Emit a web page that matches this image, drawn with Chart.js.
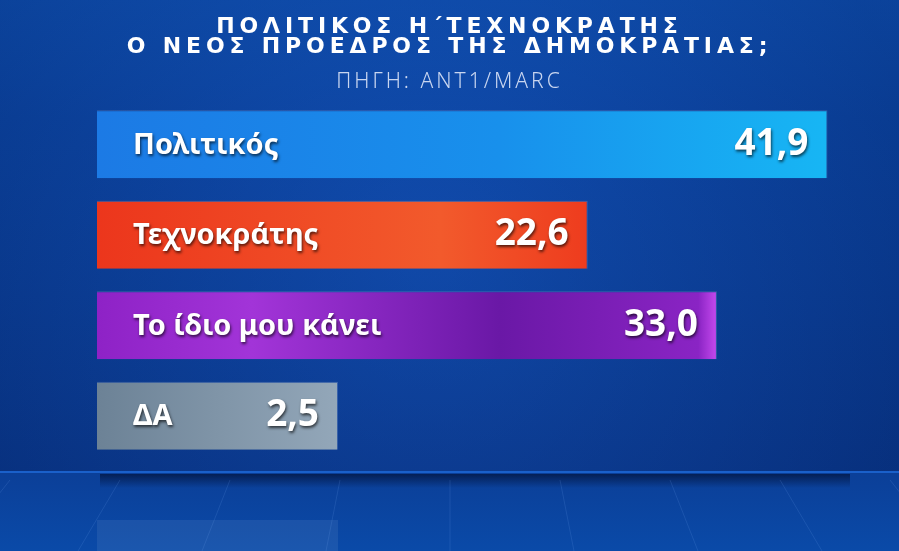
<!DOCTYPE html>
<html>
<head>
<meta charset="utf-8">
<script src="https://cdn.jsdelivr.net/npm/chart.js@4.4.1/dist/chart.umd.min.js"></script>
<style>
  html, body { margin: 0; padding: 0; }
  body { width: 899px; height: 551px; overflow: hidden; position: relative; background: #0a3f98; font-family: "Noto Sans", sans-serif; }
  #chart { position: absolute; left: 0; top: 0; }
  .title { position: absolute; left: 0; width: 899px; text-align: center; color: #fff; font-family: "DejaVu Sans", sans-serif; font-weight: 700; white-space: nowrap; font-size: 22px; line-height: 24px; letter-spacing: 4.85px; }
  #t1 { top: 14px; }
  #t2 { top: 34px; }
  #t3 { top: 68px; font-family: "Noto Sans", sans-serif; font-size: 21px; font-weight: 300; color: #c9d6f0; letter-spacing: 3px; }
</style>
</head>
<body>
<canvas id="chart" width="899" height="551"></canvas>
<div class="title" id="t1">ΠΟΛΙΤΙΚΟΣ Η΄ΤΕΧΝΟΚΡΑΤΗΣ</div>
<div class="title" id="t2">Ο ΝΕΟΣ ΠΡΟΕΔΡΟΣ ΤΗΣ ΔΗΜΟΚΡΑΤΙΑΣ;</div>
<div class="title" id="t3">ΠΗΓΗ: ANT1/MARC</div>
<script>
// Δεδομένα
const categories = ['Πολιτικός', 'Τεχνοκράτης', 'Το ίδιο μου κάνει', 'ΔΑ'];
const values = [41.9, 22.6, 33.0, 2.5];
const valueLabels = ['41,9', '22,6', '33,0', '2,5'];

// χρώματα μπαρών (αριστερά -> δεξιά)
const barStops = [
    [[0, '#1c7ae5'], [0.55, '#1890ec'], [1, '#17b6f4']],
    [[0, '#ec361c'], [0.7, '#f25a2c'], [1, '#ee3c1e']],
    [[0, '#8e22c6'], [0.25, '#a234d8'], [0.65, '#6a18a6'], [0.97, '#8a24c4'], [1, '#c64aee']],
    [[0, '#6c8296'], [1, '#93a7b9']]
];

const BASE = -16.9;

function barColor(context) {
    const chart = context.chart;
    const x = chart.scales.x;
    if (!x || !chart.chartArea) return barStops[context.dataIndex][0][1];
    const x0 = x.getPixelForValue(BASE);
    const x1 = x.getPixelForValue(values[context.dataIndex]);
    const g = chart.ctx.createLinearGradient(x0, 0, x1, 0);
    barStops[context.dataIndex].forEach(s => g.addColorStop(s[0], s[1]));
    return g;
}

// φόντο
const backgroundPlugin = {
    id: 'bg',
    beforeDraw(chart) {
        const ctx = chart.ctx;
        const w = chart.width, h = chart.height;
        ctx.save();
        let g = ctx.createLinearGradient(0, 0, 0, 472);
        g.addColorStop(0, '#0f52b4');
        g.addColorStop(0.25, '#0c48a6');
        g.addColorStop(1, '#0a3a8e');
        ctx.fillStyle = g;
        ctx.fillRect(0, 0, w, 472);
        let rg = ctx.createRadialGradient(430, 260, 20, 430, 260, 500);
        rg.addColorStop(0, 'rgba(30,90,200,0.25)');
        rg.addColorStop(1, 'rgba(0,20,80,0.25)');
        ctx.fillStyle = rg;
        ctx.fillRect(0, 0, w, 472);
        // πάτωμα
        g = ctx.createLinearGradient(0, 472, 0, h);
        g.addColorStop(0, '#0b3f98');
        g.addColorStop(1, '#0a4aa8');
        ctx.fillStyle = g;
        ctx.fillRect(0, 472, w, h - 472);
        ctx.fillStyle = '#1a60ca';
        ctx.fillRect(0, 471, w, 2);
        g = ctx.createLinearGradient(0, 474, 0, 488);
        g.addColorStop(0, 'rgba(0,10,40,0.6)');
        g.addColorStop(1, 'rgba(0,10,40,0)');
        ctx.fillStyle = g;
        ctx.fillRect(100, 474, 750, 14);
        ctx.strokeStyle = 'rgba(120,170,240,0.16)';
        ctx.lineWidth = 1;
        for (let i = -5; i <= 5; i++) {
            ctx.beginPath();
            ctx.moveTo(450 + i * 110, 480);
            ctx.lineTo(450 + i * 124, h);
            ctx.stroke();
        }
        ctx.restore();
    }
};

// ετικέτες μέσα στις μπάρες + αντανάκλαση
const labelsPlugin = {
    id: 'barLabels',
    afterDatasetsDraw(chart) {
        const ctx = chart.ctx;
        const meta = chart.getDatasetMeta(0);
        const last = meta.data[meta.data.length - 1];
        ctx.save();
        ctx.fillStyle = 'rgba(150,175,215,0.13)';
        ctx.fillRect(last.base, 520, last.x - last.base, chart.height - 520);
        ctx.fillStyle = '#ffffff';
        ctx.shadowColor = 'rgba(0,0,0,0.65)';
        ctx.shadowBlur = 3;
        ctx.shadowOffsetX = 1;
        ctx.shadowOffsetY = 2;
        ctx.textBaseline = 'middle';
        meta.data.forEach((bar, i) => {
            ctx.font = '700 29px "Noto Sans"';
            ctx.textAlign = 'left';
            ctx.fillText(categories[i], bar.base + 36, bar.y + 1);
            ctx.font = '700 37px "Noto Sans"';
            ctx.textAlign = 'right';
            ctx.fillText(valueLabels[i], bar.x - 19, bar.y);
        });
        ctx.restore();
    }
};

const chart = new Chart(document.getElementById('chart'), {
    type: 'bar',
    data: {
        labels: categories,
        datasets: [{
            data: values,
            base: BASE,
            backgroundColor: barColor,
            borderColor: 'rgba(255,255,255,0.18)',
            borderWidth: { top: 1, right: 1, bottom: 0, left: 0 },
            borderSkipped: false,
            barPercentage: 1.0,
            categoryPercentage: 0.75
        }]
    },
    options: {
        indexAxis: 'y',
        responsive: false,
        animation: false,
        layout: { padding: { left: 97, right: 33, top: 99, bottom: 90 } },
        scales: {
            x: { display: false, min: BASE, max: 45 },
            y: { display: false }
        },
        plugins: {
            legend: { display: false },
            tooltip: { enabled: false }
        }
    },
    plugins: [backgroundPlugin, labelsPlugin]
});
</script>
</body>
</html>
